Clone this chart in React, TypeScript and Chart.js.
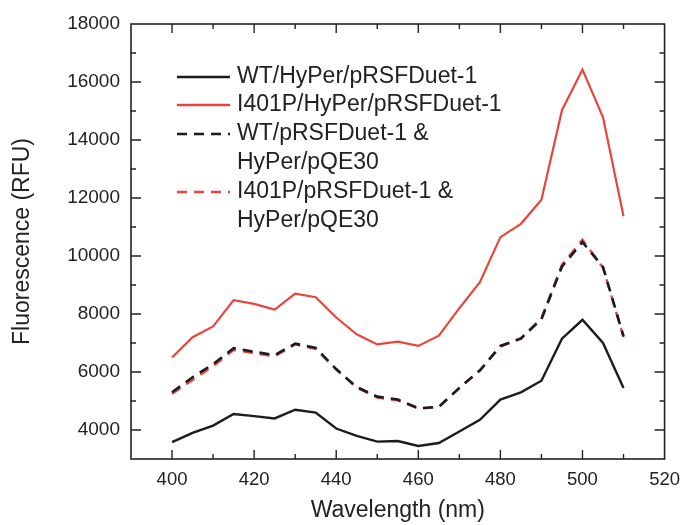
import React, { useEffect, useRef } from "react";
import { Chart, registerables } from "chart.js";

Chart.register(...registerables);

const wavelengths = [400, 405, 410, 415, 420, 425, 430, 435, 440, 445, 450, 455, 460, 465, 470, 475, 480, 485, 490, 495, 500, 505, 510];
const wtHyper = [3580, 3900, 4150, 4550, 4480, 4400, 4700, 4600, 4050, 3800, 3600, 3620, 3450, 3550, 3950, 4350, 5050, 5300, 5700, 7150, 7800, 7000, 5450];
const i401pHyper = [6500, 7200, 7570, 8480, 8350, 8150, 8700, 8580, 7880, 7300, 6950, 7050, 6900, 7250, 8200, 9100, 10650, 11110, 11940, 15030, 16430, 14780, 11370];
const wtDuet = [5300, 5820, 6270, 6820, 6700, 6580, 6980, 6830, 6100, 5480, 5150, 5050, 4750, 4800, 5450, 6050, 6900, 7150, 7820, 9630, 10480, 9620, 7230];
const i401pDuet = [5250, 5720, 6200, 6760, 6650, 6540, 6950, 6800, 6080, 5460, 5120, 5020, 4740, 4790, 5450, 6060, 6870, 7170, 7860, 9700, 10560, 9600, 7200];

const seriesLabels = [
  ["WT/HyPer/pRSFDuet-1"],
  ["I401P/HyPer/pRSFDuet-1"],
  ["WT/pRSFDuet-1 &", "HyPer/pQE30"],
  ["I401P/pRSFDuet-1 &", "HyPer/pQE30"],
];
const xTickValues = [400, 420, 440, 460, 480, 500, 520];
const yTickValues = [4000, 6000, 8000, 10000, 12000, 14000, 16000, 18000];

const BLACK = "#1b1b24";
const RED = "#e8463c";
const TEXT = "#222222";
const FONT = "'Liberation Sans', Arial, sans-serif";
const DASH = [10, 7];

const pts = (ys: number[]) => wavelengths.map((x, i) => ({ x, y: ys[i] }));

export default function App() {
  const ref = useRef<HTMLCanvasElement | null>(null);

  useEffect(() => {
    if (!ref.current) return;
    const styles = [
      { color: BLACK, dash: [] as number[] },
      { color: RED, dash: [] as number[] },
      { color: BLACK, dash: DASH },
      { color: RED, dash: DASH },
    ];
    const framePlugin = {
      id: "frame",
      afterDraw(chart: any) {
        const { ctx, chartArea: a, scales } = chart;
        const xs = scales.x;
        const ys = scales.y;
        ctx.save();
        ctx.strokeStyle = "#222";
        ctx.lineWidth = 1.6;
        ctx.setLineDash([]);
        ctx.strokeRect(a.left, a.top, a.right - a.left, a.bottom - a.top);
        ctx.lineWidth = 1.4;
        for (let v = 400; v <= 510; v += 10) {
          const px = xs.getPixelForValue(v);
          const len = v % 20 === 0 ? 9 : 5;
          ctx.beginPath();
          ctx.moveTo(px, a.bottom);
          ctx.lineTo(px, a.bottom - len);
          ctx.moveTo(px, a.top);
          ctx.lineTo(px, a.top + len);
          ctx.stroke();
        }
        for (let v = 4000; v < 18000; v += 1000) {
          const py = ys.getPixelForValue(v);
          const len = v % 2000 === 0 ? 10 : 5;
          ctx.beginPath();
          ctx.moveTo(a.left, py);
          ctx.lineTo(a.left + len, py);
          ctx.moveTo(a.right, py);
          ctx.lineTo(a.right - len, py);
          ctx.stroke();
        }
        const lx0 = 177;
        const lx1 = 230;
        const tx = 237;
        const rows = [77, 105, 134, 192];
        const lineH = 29;
        ctx.font = `23px ${FONT}`;
        ctx.textBaseline = "middle";
        ctx.textAlign = "left";
        seriesLabels.forEach((lines, i) => {
          const y = rows[i];
          ctx.strokeStyle = styles[i].color;
          ctx.lineWidth = 2.4;
          ctx.setLineDash(styles[i].dash);
          ctx.beginPath();
          ctx.moveTo(lx0, y);
          ctx.lineTo(lx1, y);
          ctx.stroke();
          ctx.setLineDash([]);
          ctx.fillStyle = TEXT;
          lines.forEach((t, j) => ctx.fillText(t, tx, y + j * lineH));
        });
        ctx.restore();
      },
    };

    const chart = new Chart(ref.current, {
      type: "line",
      data: {
        datasets: [
          { label: seriesLabels[0].join(" "), data: pts(wtHyper), borderColor: BLACK, borderWidth: 2.4, pointRadius: 0, fill: false, tension: 0 },
          { label: seriesLabels[1].join(" "), data: pts(i401pHyper), borderColor: RED, borderWidth: 2.2, pointRadius: 0, fill: false, tension: 0 },
          { label: seriesLabels[2].join(" "), data: pts(wtDuet), borderColor: BLACK, borderWidth: 2.6, borderDash: DASH, pointRadius: 0, fill: false, tension: 0 },
          { label: seriesLabels[3].join(" "), data: pts(i401pDuet), borderColor: RED, borderWidth: 2.4, borderDash: DASH, pointRadius: 0, fill: false, tension: 0 },
        ],
      },
      options: {
        responsive: false,
        animation: false,
        layout: { padding: { top: 24, right: 18, left: 0, bottom: 0 } },
        plugins: { legend: { display: false }, tooltip: { enabled: false } },
        scales: {
          x: {
            type: "linear",
            min: 390,
            max: 520,
            grid: { display: false, drawTicks: false },
            border: { display: false },
            afterBuildTicks: (s: any) => { s.ticks = xTickValues.map((v) => ({ value: v })); },
            afterFit: (s: any) => { s.height = 66; },
            ticks: { color: TEXT, font: { family: FONT, size: 18.5 }, padding: 10, maxRotation: 0, autoSkip: false, callback: (v: any) => String(v) },
            title: { display: true, text: "Wavelength (nm)", color: TEXT, font: { family: FONT, size: 23 }, padding: { top: 0, bottom: 1 } },
          },
          y: {
            min: 3000,
            max: 18000,
            grid: { display: false, drawTicks: false },
            border: { display: false },
            afterBuildTicks: (s: any) => { s.ticks = yTickValues.map((v) => ({ value: v })); },
            afterFit: (s: any) => { s.width = 131; },
            ticks: { color: TEXT, font: { family: FONT, size: 19 }, padding: 11, autoSkip: false, callback: (v: any) => String(v) },
            title: { display: true, text: "Fluorescence (RFU)", color: TEXT, font: { family: FONT, size: 23 }, padding: { top: 9, bottom: 0 } },
          },
        },
      },
      plugins: [framePlugin],
    } as any);
    return () => chart.destroy();
  }, []);

  return (
    <div style={{ position: "absolute", left: 0, top: 0, width: 690, height: 525, background: "#fff" }}>
      <canvas ref={ref} width={690} height={525} style={{ display: "block" }} />
    </div>
  );
}
